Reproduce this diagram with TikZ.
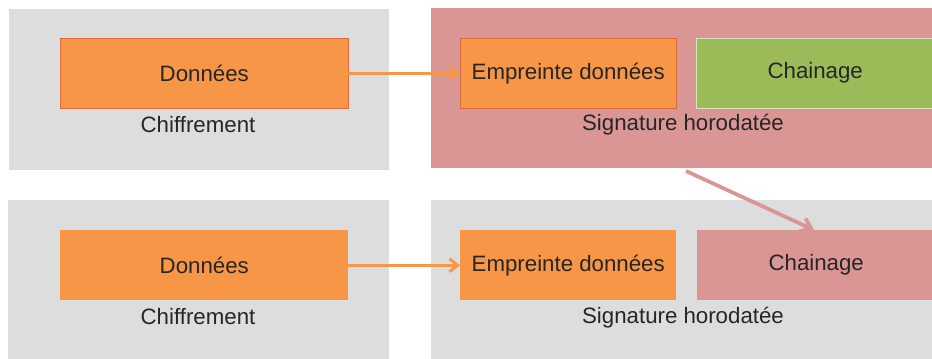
\documentclass[tikz,border=0pt]{standalone}
\usepackage{fontspec}
\setmainfont{Liberation Sans}
\usetikzlibrary{arrows.meta}
\definecolor{panelgray}{HTML}{DDDDDD}
\definecolor{panelpink}{HTML}{D99694}
\definecolor{boxorange}{HTML}{F79646}
\definecolor{edgeorange}{HTML}{DB6A3C}
\definecolor{boxgreen}{HTML}{9BBB59}
\definecolor{edgegreen}{HTML}{D7E4BD}
\definecolor{txt}{HTML}{262626}
\tikzset{
	panel/.style={shape=rectangle, inner sep=0pt, anchor=north west},
	block/.style={shape=rectangle, inner sep=0pt, anchor=north west, minimum height=2.1cm, text=txt, font=\fontsize{19}{22}\selectfont},
	caption/.style={text=txt, font=\fontsize{19}{22}\selectfont},
}
\begin{document}
\begin{tikzpicture}[x=0.03cm, y=-0.03cm]
	\useasboundingbox (0,0) rectangle (932,358);
	\clip (0,0) rectangle (932,358);

	\node[panel, fill=panelgray, draw=white, minimum width=11.43cm, minimum height=4.86cm]  (p1) at (8,8)     {};
	\node[panel, fill=panelpink, minimum width=15.1cm, minimum height=4.8cm]                (p2) at (431,8)   {};
	\node[panel, fill=panelgray, minimum width=11.43cm, minimum height=5cm]                 (p3) at (8,200)   {};
	\node[panel, fill=panelgray, minimum width=15.1cm, minimum height=5cm]                  (p4) at (431,200) {};

	\node[block, fill=boxorange, draw=edgeorange, minimum width=8.64cm]  (d1) at (60,38)   {Données};
	\node[block, fill=boxorange, draw=edgeorange, minimum width=6.48cm]  (e1) at (460,38)  {Empreinte données};
	\node[block, fill=boxgreen, draw=edgegreen, minimum width=7.14cm]    (c1) at (696,38)  {Chainage};
	\node[block, fill=boxorange, minimum width=8.64cm]                   (d2) at (60,230)  {Données};
	\node[block, fill=boxorange, minimum width=6.48cm]                   (e2) at (460,230) {Empreinte données};
	\node[block, fill=panelpink, minimum width=7.14cm]                   (c2) at (697,230) {Chainage};

	\node[caption] (l1) at (198,125) {Chiffrement};
	\node[caption] (l2) at (683,125) {Signature horodatée};
	\node[caption] (l3) at (198,317) {Chiffrement};
	\node[caption] (l4) at (683,318) {Signature horodatée};

	\coordinate (s) at (686,171);
	\coordinate (t) at (814,230);

	\path [-{Straight Barb[length=7pt, width=11pt]}, boxorange, line width=2.5pt] (d1) edge (e1);
	\path [-{Straight Barb[length=7pt, width=11pt]}, boxorange, line width=2.5pt] (d2) edge (e2);
	\path [-{Straight Barb[length=8pt, width=12pt]}, panelpink, line width=3.2pt] (s) edge (t);
\end{tikzpicture}
\end{document}
